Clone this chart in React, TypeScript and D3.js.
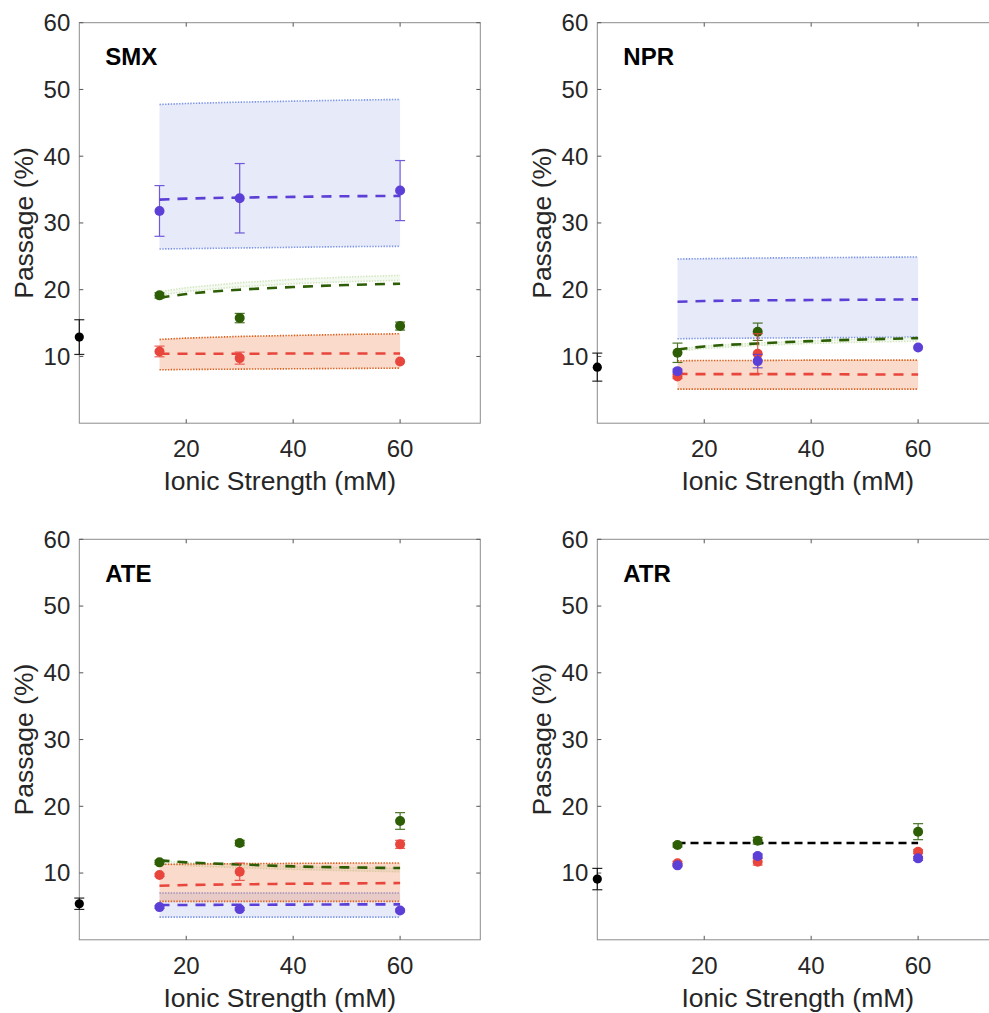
import React from 'react';
import * as d3 from 'd3';

// measured ionic strengths and model grid (mM)
const ionic = [15, 30, 60];
const modelIonic = [15, 20, 30, 40, 50, 60];
const xTicks = [20, 40, 60];
const yTicks = [10, 20, 30, 40, 50, 60];

// SMX
const smxFeed = [12.9, 2.6];
const smxBlue = [31.8, 33.7, 34.85];
const smxBlueErr = [3.8, 5.2, 4.5];
const smxGreen = [19.15, 15.75, 14.55];
const smxGreenErr = [0.4, 0.7, 0.6];
const smxRed = [10.75, 9.75, 9.25];
const smxRedErr = [0.8, 0.9, 0];
const smxBlueModel = [33.5, 33.65, 33.8, 33.9, 34.0, 34.05];
const smxBlueLo = [26.1, 26.15, 26.25, 26.35, 26.45, 26.5];
const smxBlueHi = [47.75, 47.9, 48.1, 48.25, 48.4, 48.5];
const smxGreenModel = [18.8, 19.35, 20.0, 20.4, 20.7, 20.9];
const smxGreenLo = [19.2, 19.75, 20.45, 20.9, 21.2, 21.4];
const smxGreenHi = [19.7, 20.3, 21.05, 21.55, 21.9, 22.15];
const smxRedModel = [10.4, 10.4, 10.4, 10.45, 10.45, 10.45];
const smxRedLo = [8.0, 8.05, 8.1, 8.15, 8.2, 8.25];
const smxRedHi = [12.55, 12.75, 13.0, 13.15, 13.3, 13.4];

// NPR
const nprFeed = [8.4, 2.1];
const nprBlue = [7.8, 9.3, 11.35];
const nprBlueErr = [0.3, 1.0, 0];
const nprGreen = [10.55, 13.7, null];
const nprGreenErr = [1.45, 1.3, 0];
const nprRed = [7.0, 10.4, null];
const nprRedErr = [0.3, 3.0, 0];
const nprBlueModel = [18.2, 18.3, 18.4, 18.45, 18.5, 18.55];
const nprBlueLo = [12.65, 12.7, 12.75, 12.8, 12.85, 12.9];
const nprBlueHi = [24.6, 24.65, 24.75, 24.8, 24.85, 24.9];
const nprGreenModel = [11.05, 11.5, 11.95, 12.3, 12.55, 12.75];
const nprGreenLo = [10.8, 11.2, 11.65, 11.95, 12.15, 12.3];
const nprGreenHi = [11.1, 11.55, 12.0, 12.35, 12.6, 12.8];
const nprRedModel = [7.4, 7.35, 7.35, 7.35, 7.3, 7.3];
const nprRedLo = [5.1, 5.1, 5.1, 5.1, 5.1, 5.1];
const nprRedHi = [9.35, 9.4, 9.4, 9.45, 9.45, 9.45];

// ATE
const ateFeed = [5.4, 0.85];
const ateBlue = [4.9, 4.6, 4.4];
const ateBlueErr = [0.2, 0.2, 0.2];
const ateGreen = [11.6, 14.5, 17.8];
const ateGreenErr = [0.3, 0.4, 1.25];
const ateRed = [9.7, 10.2, 14.3];
const ateRedErr = [0.2, 1.3, 0.6];
const ateBlueModel = [5.2, 5.22, 5.25, 5.27, 5.3, 5.3];
const ateBlueLo = [3.4, 3.4, 3.4, 3.4, 3.4, 3.4];
const ateBlueHi = [7.0, 7.0, 7.0, 7.0, 7.0, 7.0];
const ateGreenModel = [11.9, 11.6, 11.3, 11.0, 10.85, 10.75];
const ateGreenLo = [11.4, 11.1, 10.8, 10.55, 10.35, 10.2];
const ateGreenHi = [11.85, 11.55, 11.25, 10.95, 10.8, 10.7];
const ateRedModel = [8.1, 8.2, 8.3, 8.4, 8.45, 8.5];
const ateRedLo = [5.75, 5.75, 5.75, 5.75, 5.75, 5.75];
const ateRedHi = [11.3, 11.35, 11.4, 11.45, 11.5, 11.5];

// ATR
const atrFeed = [9.1, 1.6];
const atrBlue = [11.15, 12.55, 12.2];
const atrBlueErr = [0.2, 0.3, 0.3];
const atrGreen = [14.2, 14.85, 16.2];
const atrGreenErr = [0.3, 0.5, 1.2];
const atrRed = [11.45, 11.7, 13.2];
const atrRedErr = [0.3, 0.5, 0.3];
const atrModel = [14.5, 14.5, 14.5, 14.5, 14.5, 14.5];

const BLUE = '#5b3fd6';
const GREEN = '#2d5e05';
const RED = '#e8453c';
const FONT = "'Liberation Sans', Arial, Helvetica, sans-serif";
const TXT = '#262626';

const W = 401;
const H = 400.5;

const x = d3.scaleLinear().domain([0, 75]).range([0, W]);
const y = d3.scaleLinear().domain([0, 60]).range([H, 0]);

const bandStyles = {
	blue: { fill: '#7b8ce0', opacity: 0.18, edge: '#7c95e6' },
	green: { fill: '#a8cc88', opacity: 0.12, edge: '#d2e6c0' },
	red: { fill: '#ee7a45', opacity: 0.28, edge: '#dc5f1c' },
};

const Band = ({ lo, hi, kind }) => {
	const s = bandStyles[kind];
	const pts = modelIonic.map((v, i) => ({ x: v, lo: lo[i], hi: hi[i] }));
	const area = d3.area().x(d => x(d.x)).y0(d => y(d.lo)).y1(d => y(d.hi));
	const lineLo = d3.line().x(d => x(d.x)).y(d => y(d.lo));
	const lineHi = d3.line().x(d => x(d.x)).y(d => y(d.hi));
	return (
		<g>
			<path d={area(pts)} fill={s.fill} fillOpacity={s.opacity} />
			<path d={lineLo(pts)} fill='none' stroke={s.edge} strokeWidth={1.6} strokeDasharray='1.4 1.4' />
			<path d={lineHi(pts)} fill='none' stroke={s.edge} strokeWidth={1.6} strokeDasharray='1.4 1.4' />
		</g>
	);
};

const ModelLine = ({ values, color, dash = '10 8' }) => {
	const line = d3.line().x(d => x(d[0])).y(d => y(d[1])).curve(d3.curveMonotoneX);
	return (
		<path
			d={line(modelIonic.map((v, i) => [v, values[i]]))}
			fill='none'
			stroke={color}
			strokeWidth={2.6}
			strokeDasharray={dash}
		/>
	);
};

const Points = ({ xs, values, errs, color, r = 5 }) => (
	<g>
		{values.map((v, i) => {
			if (v === null) return null;
			const cx = x(xs[i]);
			const e = errs[i];
			return (
				<g key={i}>
					{e > 0 && (
						<g stroke={color} strokeWidth={1.2} opacity={0.85}>
							<line x1={cx} x2={cx} y1={y(v - e)} y2={y(v + e)} />
							<line x1={cx - 5} x2={cx + 5} y1={y(v - e)} y2={y(v - e)} />
							<line x1={cx - 5} x2={cx + 5} y1={y(v + e)} y2={y(v + e)} />
						</g>
					)}
					<circle cx={cx} cy={y(v)} r={r} fill={color} />
				</g>
			);
		})}
	</g>
);

const Panel = ({ left, top, title, feed, children }) => (
	<g transform={`translate(${left},${top})`} fontFamily={FONT}>
		<rect x={0} y={0} width={W} height={H} fill='none' stroke='#8c8c8c' strokeWidth={1} />
		{yTicks.map(t => (
			<g key={t}>
				<line x1={0} x2={4} y1={y(t)} y2={y(t)} stroke='#555' />
				<line x1={W - 4} x2={W} y1={y(t)} y2={y(t)} stroke='#555' />
				<text x={-9} y={y(t)} dy='0.35em' textAnchor='end' fontSize={24} fill={TXT}>{t}</text>
			</g>
		))}
		{xTicks.map(t => (
			<g key={t}>
				<line x1={x(t)} x2={x(t)} y1={H} y2={H - 4} stroke='#555' />
				<line x1={x(t)} x2={x(t)} y1={0} y2={4} stroke='#555' />
				<text x={x(t)} y={H + 34} textAnchor='middle' fontSize={24} fill={TXT}>{t}</text>
			</g>
		))}
		<text x={W / 2} y={H + 67} textAnchor='middle' fontSize={26.5} fill={TXT}>Ionic Strength (mM)</text>
		<text transform={`translate(-46,${H / 2}) rotate(-90)`} textAnchor='middle' fontSize={26.5} fill={TXT}>Passage (%)</text>
		<text x={26} y={42.3} fontSize={24} fontWeight='bold' fill='#000'>{title}</text>
		{children}
		<Points xs={[0]} values={[feed[0]]} errs={[feed[1]]} color='#000' r={4.6} />
	</g>
);

const App = () => {
	const lefts = [79.3, 597.3];
	const tops = [22.7, 539.3];
	return (
		<svg width={989} height={1013} style={{ position: 'absolute', left: 0, top: 0, background: '#fff' }}>
			<Panel left={lefts[0]} top={tops[0]} title='SMX' feed={smxFeed}>
				<Band lo={smxBlueLo} hi={smxBlueHi} kind='blue' />
				<Band lo={smxGreenLo} hi={smxGreenHi} kind='green' />
				<Band lo={smxRedLo} hi={smxRedHi} kind='red' />
				<ModelLine values={smxBlueModel} color={BLUE} />
				<ModelLine values={smxGreenModel} color={GREEN} />
				<ModelLine values={smxRedModel} color={RED} />
				<Points xs={ionic} values={smxGreen} errs={smxGreenErr} color={GREEN} />
				<Points xs={ionic} values={smxRed} errs={smxRedErr} color={RED} />
				<Points xs={ionic} values={smxBlue} errs={smxBlueErr} color={BLUE} />
			</Panel>
			<Panel left={lefts[1]} top={tops[0]} title='NPR' feed={nprFeed}>
				<Band lo={nprBlueLo} hi={nprBlueHi} kind='blue' />
				<Band lo={nprGreenLo} hi={nprGreenHi} kind='green' />
				<Band lo={nprRedLo} hi={nprRedHi} kind='red' />
				<ModelLine values={nprBlueModel} color={BLUE} />
				<ModelLine values={nprGreenModel} color={GREEN} />
				<ModelLine values={nprRedModel} color={RED} />
				<Points xs={ionic} values={nprGreen} errs={nprGreenErr} color={GREEN} />
				<Points xs={ionic} values={nprRed} errs={nprRedErr} color={RED} />
				<Points xs={ionic} values={nprBlue} errs={nprBlueErr} color={BLUE} />
			</Panel>
			<Panel left={lefts[0]} top={tops[1]} title='ATE' feed={ateFeed}>
				<Band lo={ateBlueLo} hi={ateBlueHi} kind='blue' />
				<Band lo={ateGreenLo} hi={ateGreenHi} kind='green' />
				<Band lo={ateRedLo} hi={ateRedHi} kind='red' />
				<ModelLine values={ateBlueModel} color={BLUE} />
				<ModelLine values={ateGreenModel} color={GREEN} />
				<ModelLine values={ateRedModel} color={RED} />
				<Points xs={ionic} values={ateGreen} errs={ateGreenErr} color={GREEN} />
				<Points xs={ionic} values={ateRed} errs={ateRedErr} color={RED} />
				<Points xs={ionic} values={ateBlue} errs={ateBlueErr} color={BLUE} />
			</Panel>
			<Panel left={lefts[1]} top={tops[1]} title='ATR' feed={atrFeed}>
				<ModelLine values={atrModel} color='#000' dash='8 5' />
				<Points xs={ionic} values={atrGreen} errs={atrGreenErr} color={GREEN} />
				<Points xs={ionic} values={atrRed} errs={atrRedErr} color={RED} />
				<Points xs={ionic} values={atrBlue} errs={atrBlueErr} color={BLUE} />
			</Panel>
		</svg>
	);
};

export default App;
